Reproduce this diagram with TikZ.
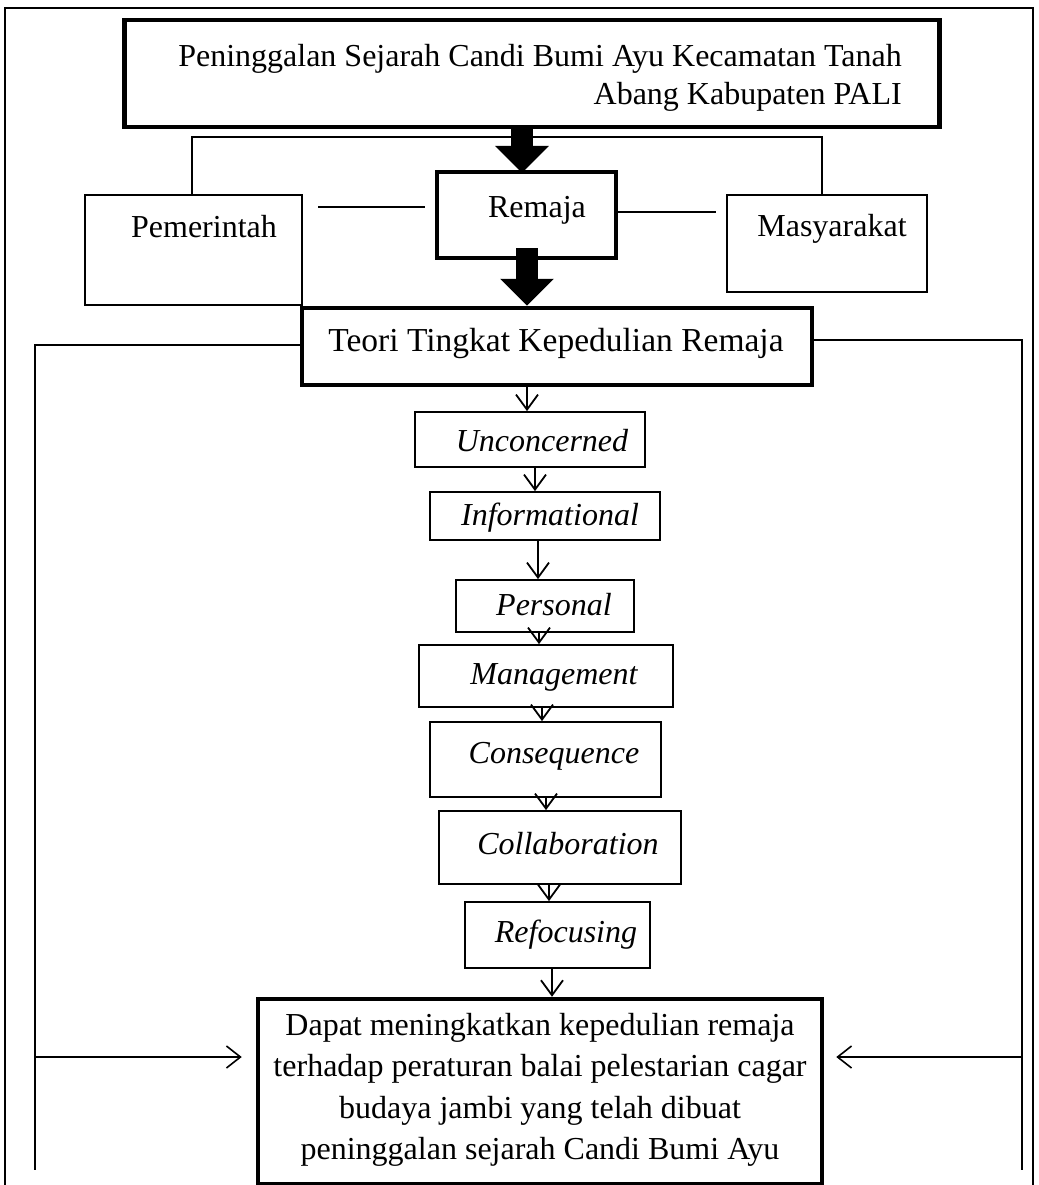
\documentclass[tikz,border=0pt]{standalone}
\usepackage{fontspec}
\setmainfont{Liberation Serif}
\usetikzlibrary{arrows.meta}
\begin{document}
\begin{tikzpicture}[x=1pt,y=-1pt,
  thickbox/.style={draw,line width=4.5pt,inner sep=0pt},
  thinbox/.style={draw,line width=1.8pt,inner sep=0pt},
  txt/.style={inner sep=0pt,font=\fontsize{32}{41.5}\selectfont},
  itxt/.style={inner sep=0pt,font=\fontsize{32}{40}\selectfont\itshape},
  conn/.style={line width=1.3pt},
  vtip/.style={-{Straight Barb[length=15pt,width=22pt,line width=1.8pt]}},
  varrow/.style={line width=1.8pt,vtip},
  bigarrow/.style={line width=22pt,-{Triangle[length=27pt,width=52pt]}}
]
\useasboundingbox (0,0) rectangle (1038,1185);
\fill[white] (0,0) rectangle (1038,1185);
% outer frame
\draw[conn] (5,1185) -- (5,8) -- (1033,8) -- (1033,1185);

% top box
\node[thickbox,minimum width=815pt,minimum height=107pt] (top) at (532,73.5) {};
\node[txt] (topl1) at (540,59) {Peninggalan Sejarah Candi Bumi Ayu Kecamatan Tanah};
\node[txt,anchor=east] (topl2) at (topl1.east |- 0,97) {Abang Kabupaten PALI};

% second row
\node[thinbox,minimum width=217pt,minimum height=110pt] (pem) at (193.5,250) {};
\node[txt] (pemt) at (204,227) {Pemerintah};
\node[thickbox,minimum width=179pt,minimum height=86pt] (rem) at (526.5,215) {};
\node[txt] (remt) at (537,210) {Remaja};
\node[thinbox,minimum width=200pt,minimum height=97pt] (mas) at (827,243.5) {};
\node[txt] (mast) at (832,229) {Masyarakat};

% connectors top row
\coordinate (cl) at (192,137);
\coordinate (cr) at (822,137);
\draw[conn] (pem.north -| cl) -- (cl) -- (cr) -- (mas.north -| cr);
\coordinate (pl1) at (318,207);
\coordinate (pl2) at (425,207);
\draw[conn] (pl1) -- (pl2);
\coordinate (ml2) at (716,212);
\draw[conn] (rem.east |- ml2) -- (ml2);

% big arrows
\draw[bigarrow] (top.south -| 522,0) ++(0,-2) -- (522,173);
% theory box
\node[thickbox,minimum width=510pt,minimum height=77pt] (teo) at (557,346.5) {};
\node[txt,font=\fontsize{33.5}{40}\selectfont] (teot) at (556,343) {Teori Tingkat Kepedulian Remaja};
\draw[bigarrow] (527,248) -- (teo.north -| 527,0);

% stages
\node[thinbox,minimum width=230pt,minimum height=55pt] (s1) at (530,439.5) {};
\node[itxt] (s1t) at (542,441) {Unconcerned};
\node[thinbox,minimum width=230pt,minimum height=48pt] (s2) at (545,516) {};
\node[itxt] (s2t) at (550,518) {Informational};
\node[thinbox,minimum width=178pt,minimum height=52pt] (s3) at (545,606) {};
\node[itxt] (s3t) at (554,605) {Personal};
\node[thinbox,minimum width=254pt,minimum height=62pt] (s4) at (546,676) {};
\node[itxt] (s4t) at (554,677) {Management};
\node[thinbox,minimum width=231pt,minimum height=75pt] (s5) at (545.5,759.5) {};
\node[itxt] (s5t) at (554,756) {Consequence};
\node[thinbox,minimum width=242pt,minimum height=73pt] (s6) at (560,847.5) {};
\node[itxt] (s6t) at (568,844) {Collaboration};
\node[thinbox,minimum width=185pt,minimum height=66pt] (s7) at (557.5,935) {};
\node[itxt] (s7t) at (566,935) {Refocusing};

% bottom box
\node[thickbox,minimum width=564pt,minimum height=185pt] (bot) at (540,1091.5) {};
\node[txt,align=center] (bott) at (540,1090) {Dapat meningkatkan kepedulian remaja\\terhadap peraturan balai pelestarian cagar\\budaya jambi yang telah dibuat\\peninggalan sejarah Candi Bumi Ayu};

% stage arrows
\draw[varrow] (teo.south -| 527,0) -- (s1.north -| 527,0);
\draw[varrow] (s1.south -| 535,0) -- (s2.north -| 535,0);
\draw[varrow] (s2.south -| 538,0) -- (s3.north -| 538,0);
\draw[varrow] (s3.south -| 539,0) -- (s4.north -| 539,0);
\draw[varrow] (s4.south -| 542,0) -- (s5.north -| 542,0);
\draw[varrow] (s5.south -| 546,0) -- (s6.north -| 546,0);
\draw[varrow] (s6.south -| 549,0) -- (s7.north -| 549,0);
\draw[varrow] (s7.south -| 552,0) -- (bot.north -| 552,0);

% side connectors
\coordinate (lt) at (35,345);
\coordinate (lb) at (35,1170);
\coordinate (la) at (35,1057);
\coordinate (rt) at (1022,340);
\coordinate (rb) at (1022,1170);
\coordinate (ra) at (1022,1057);
\draw[conn] (teo.west |- lt) -- (lt) -- (lb);
\draw[conn] (teo.east |- rt) -- (rt) -- (rb);
\draw[conn,-{Straight Barb[length=14pt,width=22pt,line width=1.6pt]}] (la) -- ([xshift=-14pt]bot.west |- la);
\draw[conn,-{Straight Barb[length=14pt,width=22pt,line width=1.6pt]}] (ra) -- ([xshift=12pt]bot.east |- ra);
\end{tikzpicture}
\end{document}
